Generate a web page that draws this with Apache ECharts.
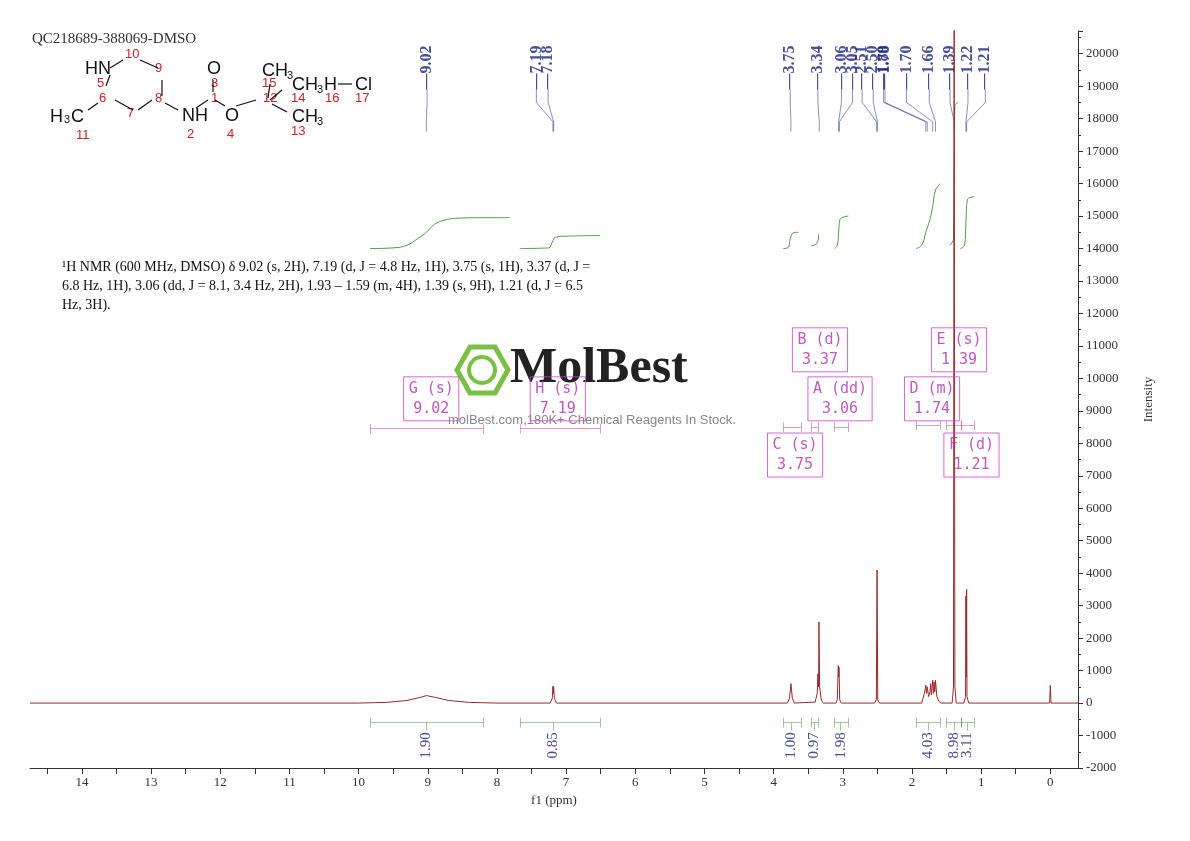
<!DOCTYPE html>
<html><head><meta charset="utf-8">
<script src="https://cdn.jsdelivr.net/npm/echarts@6/dist/echarts.min.js"></script>
<style>html,body{margin:0;padding:0;background:#fff}#c{width:1190px;height:841px}</style>
</head><body><div id="c"></div>
<script>
// spectrum [ppm, intensity]
const spectrum = [[14.75,0],[10.0,0],[9.6,20],[9.3,80],[9.1,180],[9.02,230],[8.9,180],[8.7,80],[8.4,20],[8.0,0],
[7.23,0],[7.20,150],[7.19,520],[7.185,300],[7.18,500],[7.17,150],[7.14,0],
[3.80,0],[3.77,150],[3.75,600],[3.73,150],[3.70,0],
[3.40,30],[3.37,300],[3.36,900],[3.35,500],[3.345,2500],[3.335,500],[3.31,80],[3.28,0],
[3.10,0],[3.08,100],[3.065,1150],[3.06,800],[3.055,1100],[3.045,100],[3.02,0],
[2.54,0],[2.515,100],[2.505,4100],[2.495,100],[2.47,0],
[1.86,0],[1.82,300],[1.80,550],[1.79,300],[1.78,500],[1.76,200],[1.74,350],[1.73,600],[1.72,250],[1.70,700],[1.69,300],[1.68,650],[1.67,350],[1.66,700],[1.64,200],[1.61,50],[1.58,0],
[1.42,0],[1.40,500],[1.39,22000],[1.38,500],[1.36,0],
[1.25,0],[1.225,200],[1.22,3300],[1.215,800],[1.21,3500],[1.205,200],[1.18,0],
[0.01,0],[0.0,550],[-0.01,0],[-0.4,0]];
// integral curves
const integralCurves = [
 [[9.83,14000],[9.5,14020],[9.3,14100],[9.15,14300],[9.02,14500],[8.9,14750],[8.75,14880],[8.6,14930],[8.2,14950],[7.81,14950]],
 [[7.67,14000],[7.25,14020],[7.2,14200],[7.15,14350],[7.0,14380],[6.51,14400]],
 [[3.86,14000],[3.79,14030],[3.76,14300],[3.72,14480],[3.64,14500]],
 [[3.46,14080],[3.38,14150],[3.35,14400],[3.36,14450]],
 [[3.12,14000],[3.08,14100],[3.06,14500],[3.04,14900],[2.92,15000]],
 [[1.94,14000],[1.86,14100],[1.80,14500],[1.74,14900],[1.70,15300],[1.66,15800],[1.59,16000]],
 [[1.45,14100],[1.40,14300],[1.39,16500],[1.38,18400],[1.33,18500]],
 [[1.30,14000],[1.24,14100],[1.22,14800],[1.20,15500],[1.10,15600]]
];
// integral ranges and values
const integralRanges = [[9.83,8.20],[7.67,6.51],[3.86,3.60],[3.46,3.36],[3.12,2.92],[1.94,1.59],[1.50,1.29],[1.29,1.10]];
const integralValues = ['1.90','0.85','1.00','0.97','1.98','4.03','8.98','3.11'];
const integralCenters = [9.02,7.19,3.75,3.42,3.03,1.77,1.39,1.20];
// peak picks
const peakLabels = ['9.02','7.19','7.18','3.75','3.34','3.06','3.05','2.51','2.50','1.80','1.78','1.70','1.66','1.39','1.22','1.21'];
const peakShifts = [9.02,7.19,7.18,3.75,3.34,3.06,3.05,2.51,2.50,1.80,1.78,1.70,1.66,1.39,1.22,1.21];
const peakLabelX = [9.01,7.43,7.26,3.76,3.36,3.02,2.86,2.72,2.56,2.41,2.39,2.08,1.75,1.45,1.19,0.94];
// multiplets
const multNames = ['G (s)\n9.02','H (s)\n7.19','B (d)\n3.37','A (dd)\n3.06','C (s)\n3.75','E (s)\n1.39','D (m)\n1.74','F (d)\n1.21'];
const multBoxPos = [[8.95,9370],[7.12,9370],[3.33,10880],[3.04,9370],[3.69,7640],[1.32,10880],[1.71,9370],[1.14,7640]];
const multRanges = [[9.83,8.20],[7.67,6.51],[3.46,3.36],[3.12,2.92],[3.86,3.60],[1.50,1.29],[1.94,1.59],[1.29,1.10]];
const xTickLabels = [0,1,2,3,4,5,6,7,8,9,10,11,12,13,14];
const yTicks = {min:-2000,max:20700,interval:1000};

const serif = 'Liberation Serif';
const navy = '#1a2380';
const series = [];
series.push({type:'line',data:spectrum,showSymbol:false,lineStyle:{color:'#9b2a2a',width:1},itemStyle:{color:'#9b2a2a'},z:5,animation:false});
integralCurves.forEach(c=>series.push({type:'line',data:c,smooth:0.4,showSymbol:false,lineStyle:{color:'#4aa040',width:1},z:4,animation:false}));
const barLines=[];
integralRanges.forEach(r=>{
  barLines.push({coords:[[r[0],-600],[r[1],-600]]});
  barLines.push({coords:[[r[0],-450],[r[0],-750]]});
  barLines.push({coords:[[r[1],-450],[r[1],-750]]});
});
integralCenters.forEach(c=>barLines.push({coords:[[c,-600],[c,-850]]}));
series.push({type:'lines',coordinateSystem:'cartesian2d',data:barLines,lineStyle:{color:'#3a9a30',width:1},animation:false,z:4});
series.push({type:'scatter',data:integralCenters.map((c,i)=>({value:[c,-900],label:{formatter:integralValues[i]}})),symbolSize:0,
 label:{show:true,position:'inside',rotate:90,align:'right',verticalAlign:'middle',color:navy,fontFamily:serif,fontSize:15},animation:false});
const leaders = peakShifts.map((p,i)=>({coords:[[peakLabelX[i],18900],[peakLabelX[i],18500],[p,17900],[p,17600]]}));
series.push({type:'lines',coordinateSystem:'cartesian2d',polyline:true,data:leaders,lineStyle:{color:navy,width:1},animation:false});
series.push({type:'scatter',data:peakLabels.map((t,i)=>({value:[peakLabelX[i],18900],label:{formatter:'—'+t}})),symbolSize:0,
 label:{show:true,position:'inside',rotate:90,align:'left',verticalAlign:'middle',color:navy,fontFamily:serif,fontWeight:'bold',fontSize:16},animation:false});
const multLines=[];
multRanges.forEach((r,i)=>{
  const y = i<2 ? 8450 : (i<5 ? 8500 : 8550);
  multLines.push({coords:[[r[0],y],[r[1],y]]});
  multLines.push({coords:[[r[0],y+150],[r[0],y-150]]});
  multLines.push({coords:[[r[1],y+150],[r[1],y-150]]});
});
series.push({type:'lines',coordinateSystem:'cartesian2d',data:multLines,lineStyle:{color:'#c040c0',width:1},animation:false});
series.push({type:'scatter',data:multNames.map((t,i)=>({value:multBoxPos[i],label:{formatter:t}})),symbolSize:0,
 label:{show:true,position:'inside',color:'#b030b0',fontFamily:'DejaVu Sans Mono',fontSize:15,lineHeight:20,borderColor:'#d040d0',borderWidth:1,padding:[2,5]},animation:false,z:6});

const chart = echarts.init(document.getElementById('c'));
const mol = {fill:'#111',font:'18px Liberation Sans'};
const red = {fill:'#d02020',font:'13px Liberation Sans'};
function T(x,y,t,s){return {type:'text',left:x,top:y,style:Object.assign({text:t},s)};}
function L(x1,y1,x2,y2){return {type:'line',shape:{x1,y1,x2,y2},style:{stroke:'#111',lineWidth:1.2}};}
const halfTicks=[]; for(let v=0;v<=14.5;v+=0.5) halfTicks.push(v);
chart.setOption({
 animation:false,
 grid:{left:30,right:112,top:31,bottom:73},
 xAxis:{type:'value',inverse:true,min:-0.4,max:14.75,
  axisLabel:{fontFamily:serif,fontSize:13,color:'#333',customValues:xTickLabels},
  axisTick:{length:6,customValues:halfTicks},
  axisLine:{onZero:false,lineStyle:{color:'#333'}},splitLine:{show:false},
  name:'f1 (ppm)',nameLocation:'middle',nameGap:26,nameTextStyle:{fontFamily:serif,fontSize:13,color:'#333'}},
 yAxis:{type:'value',position:'right',min:yTicks.min,max:yTicks.max,interval:yTicks.interval,
  axisLabel:{fontFamily:serif,fontSize:13,color:'#333',formatter:v=>v<=20000?v:''},
  axisTick:{show:true,length:5},minorTick:{show:true,splitNumber:2,length:3},
  axisLine:{show:true,onZero:false,lineStyle:{color:'#333'}},splitLine:{show:false},
  name:'Intensity',nameLocation:'middle',nameGap:64,nameRotate:90,nameTextStyle:{fontFamily:serif,fontSize:13,color:'#333'}},
 series,
 graphic:[
  T(32,32,'QC218689-388069-DMSO',{fill:'#333',font:'15px Liberation Serif'}),
  T(62,258,'¹H NMR (600 MHz, DMSO) δ 9.02 (s, 2H), 7.19 (d, J = 4.8 Hz, 1H), 3.75 (s, 1H), 3.37 (d, J =\n6.8 Hz, 1H), 3.06 (dd, J = 8.1, 3.4 Hz, 2H), 1.93 – 1.59 (m, 4H), 1.39 (s, 9H), 1.21 (d, J = 6.5\nHz, 3H).',{fill:'#111',font:'14px Liberation Serif',lineHeight:19}),
  T(85,60,'HN',mol),T(125,48,'10',red),T(155,62,'9',red),T(97,77,'5',red),T(99,92,'6',red),
  T(50,108,'H',mol),T(64,114,'3',{fill:'#111',font:'11px Liberation Sans'}),T(71,108,'C',mol),T(76,129,'11',red),
  T(127,107,'7',red),T(155,92,'8',red),T(182,107,'NH',mol),T(187,128,'2',red),
  T(207,60,'O',mol),T(211,77,'3',red),T(211,92,'1',red),T(225,107,'O',mol),T(227,128,'4',red),
  T(262,62,'CH',mol),T(287,70,'3',{fill:'#111',font:'11px Liberation Sans'}),T(262,77,'15',red),T(263,92,'12',red),
  T(292,76,'CH',mol),T(317,84,'3',{fill:'#111',font:'11px Liberation Sans'}),T(324,76,'H',mol),T(355,76,'Cl',mol),
  T(291,92,'14',red),T(325,92,'16',red),T(355,92,'17',red),
  T(292,108,'CH',mol),T(317,116,'3',{fill:'#111',font:'11px Liberation Sans'}),T(291,125,'13',red),
  L(110,68,123,60),L(140,60,158,68),L(162,80,162,96),L(115,100,133,110),L(138,110,152,100),
  L(110,75,106,86),L(98,103,88,110),L(165,103,178,110),L(196,108,208,100),L(215,100,225,106),L(213,80,213,92),
  L(236,106,256,100),L(270,100,282,90),L(272,104,287,112),L(268,98,270,84),L(338,84,352,84),
  {type:'polygon',shape:{points:[[470,347],[495,347],[508,370],[495,393],[470,393],[457,370]]},style:{fill:'none',stroke:'#7ac143',lineWidth:5}},
  {type:'circle',shape:{cx:482,cy:370,r:13},style:{fill:'none',stroke:'#7ac143',lineWidth:4}},
  T(510,344,'MolBest',{fill:'#222',font:'bold 50px Liberation Sans Narrow'}),
  T(448,414,'molBest.com,180K+ Chemical Reagents In Stock.',{fill:'#888',font:'13px Liberation Sans'})
 ]
});
</script></body></html>
